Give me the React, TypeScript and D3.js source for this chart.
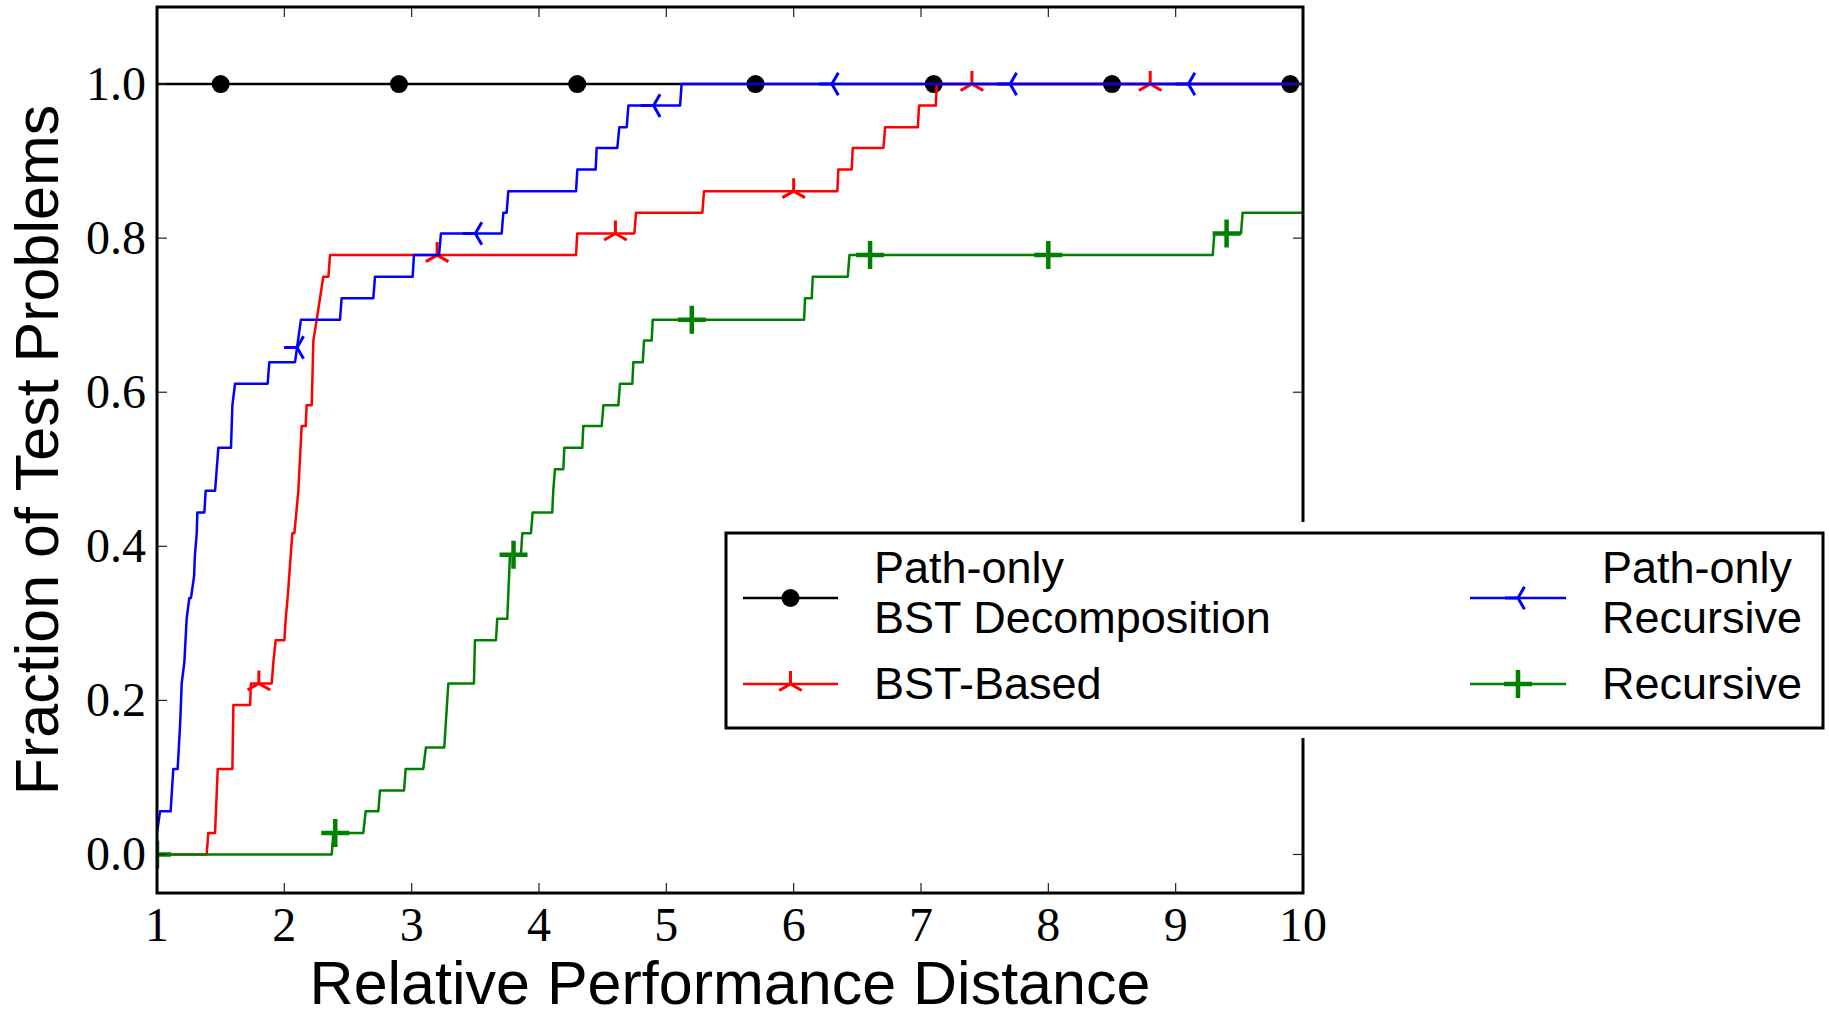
import { useEffect, useRef } from 'react'
import * as d3 from 'd3'

const W = 1829
const H = 1013

const X_TICKS = [1, 2, 3, 4, 5, 6, 7, 8, 9, 10]
const Y_TICKS = [0.0, 0.2, 0.4, 0.6, 0.8, 1.0]

// performance profiles: [relative distance, fraction]
const pathOnlyBst: [number, number][] = [[1, 1], [10, 1]]

const bstBased: [number, number][] = [
  [1, 0], [1.39, 0], [1.403, 0.028], [1.456, 0.028], [1.477, 0.111], [1.592, 0.111],
  [1.6, 0.194], [1.731, 0.194], [1.738, 0.222], [1.901, 0.222], [1.914, 0.25], [1.932, 0.278],
  [2.0, 0.278], [2.011, 0.306], [2.026, 0.333], [2.063, 0.417], [2.079, 0.417], [2.11, 0.472],
  [2.136, 0.556], [2.168, 0.556], [2.175, 0.583], [2.215, 0.583], [2.228, 0.667], [2.254, 0.694],
  [2.28, 0.722], [2.306, 0.75], [2.346, 0.75], [2.359, 0.778], [4.291, 0.778], [4.3, 0.806],
  [4.749, 0.806], [4.762, 0.833], [5.283, 0.833], [5.296, 0.861], [6.343, 0.861], [6.351, 0.889],
  [6.456, 0.889], [6.464, 0.917], [6.705, 0.917], [6.718, 0.944], [6.975, 0.944], [6.985, 0.972],
  [7.116, 0.972], [7.124, 1.0], [10, 1.0],
]

const pathOnlyRec: [number, number][] = [
  [1.0, 0.028], [1.024, 0.056], [1.107, 0.056], [1.128, 0.111], [1.162, 0.111], [1.181, 0.167],
  [1.194, 0.222], [1.215, 0.25], [1.233, 0.306], [1.254, 0.333], [1.267, 0.333], [1.291, 0.361],
  [1.298, 0.389], [1.312, 0.417], [1.317, 0.444], [1.372, 0.444], [1.382, 0.472], [1.456, 0.472],
  [1.469, 0.5], [1.482, 0.528], [1.581, 0.528], [1.592, 0.583], [1.613, 0.611], [1.869, 0.611],
  [1.882, 0.639], [2.084, 0.639], [2.13, 0.694], [2.437, 0.694], [2.45, 0.722], [2.699, 0.722],
  [2.712, 0.75], [3.008, 0.75], [3.018, 0.778], [3.215, 0.778], [3.23, 0.806], [3.707, 0.806],
  [3.72, 0.833], [3.746, 0.833], [3.759, 0.861], [4.291, 0.861], [4.301, 0.889], [4.445, 0.889],
  [4.453, 0.917], [4.615, 0.917], [4.631, 0.944], [4.689, 0.944], [4.702, 0.972], [5.108, 0.972],
  [5.12, 1.0], [10, 1.0],
]

const recursive: [number, number][] = [
  [1, 0], [2.372, 0], [2.385, 0.028], [2.62, 0.028], [2.639, 0.056], [2.738, 0.056],
  [2.751, 0.083], [2.94, 0.083], [2.953, 0.111], [3.091, 0.111], [3.112, 0.139], [3.256, 0.139],
  [3.288, 0.222], [3.489, 0.222], [3.497, 0.278], [3.662, 0.278], [3.672, 0.306], [3.751, 0.306],
  [3.772, 0.389], [3.858, 0.389], [3.869, 0.417], [3.937, 0.417], [3.95, 0.444], [4.104, 0.444],
  [4.112, 0.472], [4.125, 0.5], [4.191, 0.5], [4.199, 0.528], [4.34, 0.528], [4.348, 0.556],
  [4.492, 0.556], [4.506, 0.583], [4.623, 0.583], [4.636, 0.611], [4.733, 0.611], [4.741, 0.639],
  [4.815, 0.639], [4.825, 0.667], [4.885, 0.667], [4.893, 0.694], [6.082, 0.694], [6.089, 0.722],
  [6.142, 0.722], [6.15, 0.75], [6.425, 0.75], [6.438, 0.778], [9.291, 0.778], [9.304, 0.806],
  [9.513, 0.806], [9.526, 0.833], [10, 0.833],
]

// x positions where markers sit
const BLACK_MARKS = [1.5, 2.9, 4.3, 5.7, 7.1, 8.5, 9.9]
const RED_MARKS = [1.8, 3.2, 4.6, 6.0, 7.4, 8.8]
const BLUE_MARKS = [2.1, 3.5, 4.9, 6.3, 7.7, 9.1]
const GREEN_MARKS = [1.0, 2.4, 3.8, 5.2, 6.6, 8.0, 9.4]

const SERIES = [
  { label: ['Path-only', 'BST Decomposition'], color: '#000000', points: pathOnlyBst, marks: BLACK_MARKS, marker: 'o' },
  { label: ['BST-Based'], color: '#ff0000', points: bstBased, marks: RED_MARKS, marker: 'tri_up' },
  { label: ['Path-only', 'Recursive'], color: '#0000ff', points: pathOnlyRec, marks: BLUE_MARKS, marker: 'tri_left' },
  { label: ['Recursive'], color: '#008000', points: recursive, marks: GREEN_MARKS, marker: 'plus' },
]

const SANS = '"Liberation Sans", Arial, Helvetica, sans-serif'
const SERIF = '"Liberation Serif", "Times New Roman", serif'

function yAt(pts: [number, number][], xv: number) {
  for (let i = 0; i < pts.length - 1; i++) {
    const [x0, y0] = pts[i]
    const [x1, y1] = pts[i + 1]
    if (xv >= x0 && xv <= x1) {
      if (x1 === x0) return y1
      return y0 + ((xv - x0) / (x1 - x0)) * (y1 - y0)
    }
  }
  return pts[pts.length - 1][1]
}

function drawMarker(g: any, kind: string, cx: number, cy: number, color: string) {
  if (kind === 'o') {
    g.append('circle').attr('cx', cx).attr('cy', cy).attr('r', 9).attr('fill', color)
    return
  }
  let d = 'M-14,0H14M0,-14V14'
  if (kind === 'tri_up') d = 'M0,0V-13M0,0L11.3,6.5M0,0L-11.3,6.5'
  if (kind === 'tri_left') d = 'M0,0H-13M0,0L6.5,-11.3M0,0L6.5,11.3'
  g.append('path')
    .attr('transform', `translate(${cx},${cy})`)
    .attr('d', d)
    .attr('fill', 'none')
    .attr('stroke', color)
    .attr('stroke-width', kind === 'plus' ? 4.5 : 3)
}

export default function App() {
  const ref = useRef<SVGSVGElement>(null)

  useEffect(() => {
    if (!ref.current) return
    const svg = d3.select(ref.current)
    svg.selectAll('*').remove()

    const left = 157, right = 1303, top = 7, bottom = 893
    const x = d3.scaleLinear().domain([1, 10]).range([left, right])
    const y = d3.scaleLinear().domain([-0.05, 1.1]).range([bottom, top])

    svg.append('rect').attr('width', W).attr('height', H).attr('fill', '#fff')

    svg.append('defs').append('clipPath').attr('id', 'plot-clip')
      .append('rect')
      .attr('x', left).attr('y', top)
      .attr('width', right - left).attr('height', bottom - top)

    const plot = svg.append('g').attr('clip-path', 'url(#plot-clip)')
    const line = d3.line<[number, number]>().x((d) => x(d[0])).y((d) => y(d[1]))

    SERIES.forEach((s) => {
      plot.append('path')
        .attr('d', line(s.points))
        .attr('fill', 'none')
        .attr('stroke', s.color)
        .attr('stroke-width', 2.5)
        .attr('stroke-linejoin', 'round')
      s.marks.forEach((mx) => drawMarker(plot, s.marker, x(mx), y(yAt(s.points, mx)), s.color))
    })

    // ticks, inward on all four sides
    const ticks = svg.append('g').attr('stroke', '#222').attr('stroke-width', 1.2)
    X_TICKS.forEach((t) => {
      ticks.append('line').attr('x1', x(t)).attr('x2', x(t)).attr('y1', bottom).attr('y2', bottom - 10)
      ticks.append('line').attr('x1', x(t)).attr('x2', x(t)).attr('y1', top).attr('y2', top + 10)
    })
    Y_TICKS.forEach((t) => {
      ticks.append('line').attr('x1', left).attr('x2', left + 10).attr('y1', y(t)).attr('y2', y(t))
      ticks.append('line').attr('x1', right).attr('x2', right - 10).attr('y1', y(t)).attr('y2', y(t))
    })

    svg.append('rect')
      .attr('x', left).attr('y', top)
      .attr('width', right - left).attr('height', bottom - top)
      .attr('fill', 'none').attr('stroke', '#000').attr('stroke-width', 3)

    X_TICKS.forEach((t) => {
      svg.append('text')
        .attr('x', x(t)).attr('y', 941)
        .attr('text-anchor', 'middle')
        .attr('font-family', SERIF).attr('font-size', 48)
        .text(String(t))
    })
    Y_TICKS.forEach((t) => {
      svg.append('text')
        .attr('x', 146).attr('y', y(t) + 16)
        .attr('text-anchor', 'end')
        .attr('font-family', SERIF).attr('font-size', 48)
        .text(d3.format('.1f')(t))
    })

    svg.append('text')
      .attr('x', (left + right) / 2).attr('y', 1004)
      .attr('text-anchor', 'middle')
      .attr('font-family', SANS).attr('font-size', 61)
      .text('Relative Performance Distance')

    svg.append('text')
      .attr('transform', `translate(58,${(top + bottom) / 2}) rotate(-90)`)
      .attr('text-anchor', 'middle')
      .attr('font-family', SANS).attr('font-size', 61)
      .text('Fraction of Test Problems')

    // legend: two columns, two rows
    const lg = svg.append('g')
    lg.append('rect').attr('x', 716).attr('y', 522).attr('width', W - 716).attr('height', 216).attr('fill', '#fff')
    lg.append('rect')
      .attr('x', 726).attr('y', 533).attr('width', 1097).attr('height', 195)
      .attr('fill', '#fff').attr('stroke', '#000').attr('stroke-width', 3)

    const cols = [{ x0: 743, x1: 838, tx: 874 }, { x0: 1470, x1: 1566, tx: 1602 }]
    const rows = [{ ly: 598, base: [583, 633] }, { ly: 684, base: [699] }]
    const order = [[0, 0, 0], [1, 0, 1], [2, 1, 0], [3, 1, 1]]
    order.forEach(([si, ci, ri]) => {
      const s = SERIES[si]
      const c = cols[ci]
      const r = rows[ri]
      lg.append('line')
        .attr('x1', c.x0).attr('x2', c.x1).attr('y1', r.ly).attr('y2', r.ly)
        .attr('stroke', s.color).attr('stroke-width', 2.5)
      drawMarker(lg, s.marker, (c.x0 + c.x1) / 2, r.ly, s.color)
      s.label.forEach((txt, k) => {
        lg.append('text')
          .attr('x', c.tx).attr('y', r.base[k])
          .attr('font-family', SANS).attr('font-size', 45)
          .text(txt)
      })
    })
  }, [])

  return (
    <svg
      ref={ref}
      width={W}
      height={H}
      style={{ position: 'absolute', left: 0, top: 0, display: 'block' }}
    />
  )
}
